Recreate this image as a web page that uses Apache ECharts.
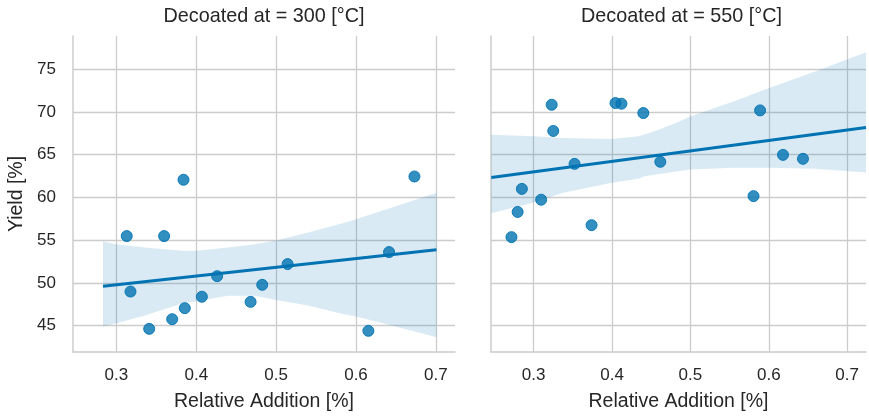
<!DOCTYPE html>
<html><head><meta charset="utf-8">
<script src="https://cdn.jsdelivr.net/npm/echarts@6/dist/echarts.min.js"></script>
<style>html,body{margin:0;padding:0;background:#fff}#c{width:869px;height:417px}</style>
</head><body><div id="c"></div>
<script>
// ---- data ----
const panelTitles = ['Decoated at = 300 [°C]', 'Decoated at = 550 [°C]'];
const xLabel = 'Relative Addition [%]';
const yLabel = 'Yield [%]';

const x300 = [0.3129, 0.3597, 0.3176, 0.3410, 0.3698, 0.3856, 0.4070, 0.4261, 0.4680, 0.4826, 0.5144, 0.6155, 0.6414, 0.3840, 0.6732];
const y300 = [55.47, 55.47, 48.98, 44.61, 45.74, 47.03, 48.37, 50.78, 47.77, 49.77, 52.19, 44.38, 53.60, 62.07, 62.45];

const x550 = [0.3230, 0.3250, 0.4044, 0.4120, 0.4399, 0.5889, 0.3522, 0.4616, 0.6181, 0.6436, 0.2850, 0.3096, 0.2796, 0.2717, 0.3739, 0.5805];
const y550 = [70.85, 67.78, 71.05, 70.97, 69.88, 70.19, 63.93, 64.17, 64.98, 64.52, 61.00, 59.73, 58.30, 55.35, 56.75, 60.15];

const fit300X = [0.2832, 0.7008];
const fit300Y = [49.61, 53.87];
const fit550X = [0.2460, 0.7240];
const fit550Y = [62.32, 68.18];

const ci300X     = [0.2832, 0.3000, 0.3355, 0.3835, 0.4000, 0.4400, 0.4734, 0.5000, 0.5400, 0.5820, 0.6000, 0.6450, 0.7008];
const ci300Upper = [54.85, 54.53, 54.15, 53.75, 53.75, 54.15, 54.53, 54.97, 55.89, 56.94, 57.45, 58.81, 60.56];
const ci300Lower = [44.88, 45.27, 46.17, 47.60, 47.83, 48.50, 48.50, 47.98, 47.33, 46.37, 46.05, 45.00, 43.64];

const ci550X     = [0.2460, 0.3000, 0.3376, 0.4000, 0.4336, 0.4420, 0.4545, 0.4837, 0.5004, 0.5547, 0.6006, 0.6590, 0.7240];
const ci550Upper = [67.35, 67.15, 66.96, 66.85, 67.15, 67.40, 67.74, 68.79, 69.49, 71.24, 72.80, 74.74, 77.00];
const ci550Lower = [58.14, 59.40, 60.56, 61.72, 62.20, 62.49, 62.65, 63.07, 63.27, 63.46, 63.46, 63.35, 62.93];

const xMin = 0.2456, xMax = 0.724;
const yMin = 41.9, yMax = 78.9;

// ---- style ----
const FONT = '"Liberation Sans", Arial, sans-serif';
const TXT = '#262626';
const GRIDC = '#cccccc';
const BLUE = '#0173B2';

const chart = echarts.init(document.getElementById('c'), null, {renderer: 'canvas'});

function xAxisCfg(gi) {
  return {
    type: 'value', gridIndex: gi, min: xMin, max: xMax,
    minInterval: 0.1, maxInterval: 0.1,
    name: xLabel, nameLocation: 'middle', nameGap: 40,
    nameTextStyle: {fontFamily: FONT, fontSize: 19.5, color: TXT},
    axisLine: {show: true, lineStyle: {color: GRIDC, width: 1.5}},
    axisTick: {show: false},
    axisLabel: {
      fontFamily: FONT, fontSize: 17, color: TXT, margin: 15,
      formatter: v => Math.abs(v * 10 - Math.round(v * 10)) < 1e-6 ? v.toFixed(1) : ''
    },
    splitLine: {show: true, showMinLine: false, showMaxLine: false, lineStyle: {color: GRIDC, width: 1.3}}
  };
}
function yAxisCfg(gi, showLabels) {
  return {
    type: 'value', gridIndex: gi, min: yMin, max: yMax,
    minInterval: 5, maxInterval: 5,
    name: showLabels ? yLabel : '', nameLocation: 'middle', nameGap: 46,
    nameTextStyle: {fontFamily: FONT, fontSize: 19.5, color: TXT},
    axisLine: {show: true, lineStyle: {color: GRIDC, width: 1.5}},
    axisTick: {show: false},
    axisLabel: {
      show: showLabels, fontFamily: FONT, fontSize: 17, color: TXT, margin: 17,
      formatter: v => Math.abs(v / 5 - Math.round(v / 5)) < 1e-6 ? String(Math.round(v)) : ''
    },
    splitLine: {show: true, showMinLine: false, showMaxLine: false, lineStyle: {color: GRIDC, width: 1.3}}
  };
}

function bandSeries(gi, xs, up, lo) {
  return {
    type: 'custom', xAxisIndex: gi, yAxisIndex: gi, clip: true, silent: true, z: 3,
    data: [[xs[0], up[0]]],
    renderItem: function (params, api) {
      const pts = [];
      for (let i = 0; i < xs.length; i++) pts.push(api.coord([xs[i], up[i]]));
      for (let i = xs.length - 1; i >= 0; i--) pts.push(api.coord([xs[i], lo[i]]));
      return {
        type: 'polygon', shape: {points: pts},
        style: {fill: 'rgba(1,115,178,0.15)', stroke: null}
      };
    }
  };
}
function scatterSeries(gi, xs, ys) {
  return {
    type: 'scatter', xAxisIndex: gi, yAxisIndex: gi, symbolSize: 11, z: 2,
    data: xs.map((x, i) => [x, ys[i]]),
    itemStyle: {color: 'rgba(1,115,178,0.8)', borderColor: 'rgba(1,115,178,0.9)', borderWidth: 1, opacity: 1}
  };
}
function fitSeries(gi, xs, ys) {
  return {
    type: 'line', xAxisIndex: gi, yAxisIndex: gi, clip: true, z: 4,
    data: xs.map((x, i) => [x, ys[i]]), showSymbol: false, symbol: 'none',
    lineStyle: {color: BLUE, width: 3}
  };
}

chart.setOption({
  animation: false,
  backgroundColor: '#ffffff',
  title: [
    {text: panelTitles[0], left: 264, top: 7, textAlign: 'center', padding: 0,
     textStyle: {fontFamily: FONT, fontSize: 19.8, fontWeight: 'normal', color: TXT}},
    {text: panelTitles[1], left: 681.5, top: 7, textAlign: 'center', padding: 0,
     textStyle: {fontFamily: FONT, fontSize: 19.8, fontWeight: 'normal', color: TXT}}
  ],
  grid: [
    {left: 73, width: 382, top: 36, bottom: 64, containLabel: false},
    {left: 491, width: 382, top: 36, bottom: 64, containLabel: false}
  ],
  xAxis: [xAxisCfg(0), xAxisCfg(1)],
  yAxis: [yAxisCfg(0, true), yAxisCfg(1, false)],
  series: [
    scatterSeries(0, x300, y300),
    bandSeries(0, ci300X, ci300Upper, ci300Lower),
    fitSeries(0, fit300X, fit300Y),
    scatterSeries(1, x550, y550),
    bandSeries(1, ci550X, ci550Upper, ci550Lower),
    fitSeries(1, fit550X, fit550Y)
  ]
});
</script>
</body></html>
